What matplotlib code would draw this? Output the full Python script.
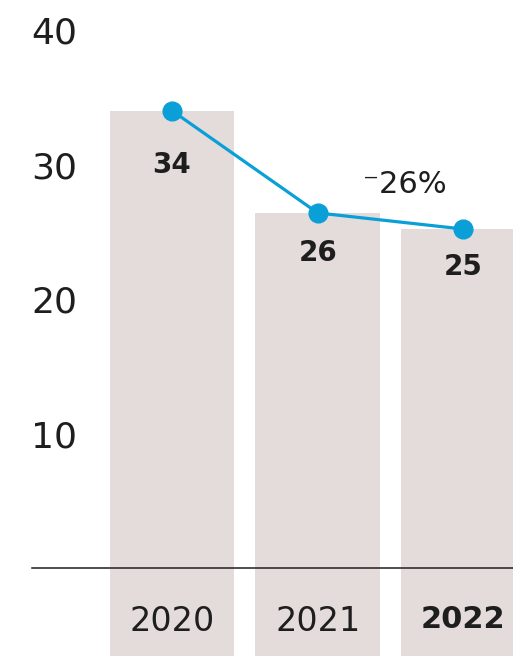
import numpy as np
import matplotlib
matplotlib.use('Agg')
import matplotlib.pyplot as plt

years = ['2020', '2021', '2022']
values = [34.0, 26.4, 25.2]
yticks = [10, 20, 30, 40]

BAR = '#e4dcdb'
BLUE = '#0a9fd6'
INK = '#1e1e1e'

plt.rcParams['font.family'] = ['DejaVu Sans']

fig = plt.figure(figsize=(5.13, 6.56), dpi=100)
ax = fig.add_axes([0, 0, 1, 1])

ylo, yhi = -6.54, 42.23
ax.set_xlim(-1.1805, 2.3404)
ax.set_ylim(ylo, yhi)

x = np.arange(len(years))
vals = np.array(values)

# bars run from the bottom edge up to the value
ax.bar(x, vals - ylo, bottom=ylo, width=0.855, color=BAR, zorder=1)
ax.plot(x, vals, color=BLUE, lw=2.3, marker='o', ms=13.5, zorder=3)

# value labels under each dot
label_dy = [-39, -29, -27]
for xi, v, dy in zip(x, vals, label_dy):
    ax.annotate(f'{v:.0f}', (xi, v), xytext=(0, dy), textcoords='offset points',
                ha='center', va='center', fontsize=20, fontweight='bold',
                color=INK, zorder=4)

change = (vals[-1] - vals[0]) / vals[0] * 100
ax.text(1.6, 28.5, f'\u207b{abs(change):.0f}%', ha='center', va='center',
        fontsize=22, color=INK, family=['DejaVu Sans'])

# baseline at zero, starts a little right of the tick labels
for s in ['top', 'right', 'left']:
    ax.spines[s].set_visible(False)
ax.spines['bottom'].set_position(('data', 0))
ax.spines['bottom'].set_bounds(-0.961, 2.3404)
ax.spines['bottom'].set_linewidth(1.1)
ax.spines['bottom'].set_color(INK)
ax.spines['bottom'].set_zorder(2)

ax.set_xticks(x)
ax.set_xticklabels(years)
ax.tick_params(axis='x', length=0, pad=26.5, labelsize=24, labelcolor=INK)
last = ax.get_xticklabels()[-1]
last.set_fontweight('bold')
last.set_fontsize(22)

ax.set_yticks(yticks)
ax.tick_params(axis='y', length=0, pad=-55.8, labelsize=26, labelcolor=INK)

fig.savefig('out.png', dpi=100, facecolor='white')
